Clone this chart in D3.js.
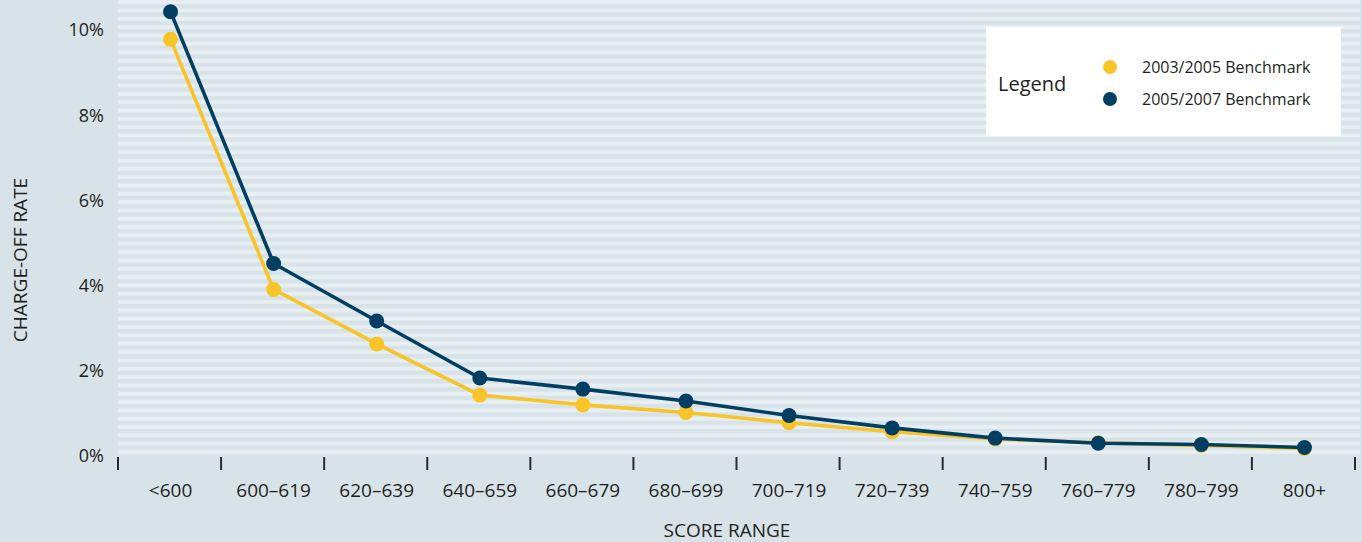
<!DOCTYPE html>
<html><head><meta charset="utf-8">
<script src="https://cdn.jsdelivr.net/npm/d3@7"></script>
<style>
html,body{margin:0;padding:0;background:#d8e3e9;}
svg{display:block;}
text{font-family:"Open Sans","Noto Sans",sans-serif;fill:#231f20;}
</style></head>
<body><svg id="c" width="1362" height="542"></svg>
<script>
const categories = ["<600","600–619","620–639","640–659","660–679","680–699","700–719","720–739","740–759","760–779","780–799","800+"];
const series2003 = [9.78,3.91,2.63,1.43,1.20,1.02,0.78,0.57,0.40,0.31,0.25,0.18];
const series2007 = [10.43,4.52,3.17,1.83,1.57,1.29,0.95,0.66,0.42,0.30,0.27,0.20];
const yTicks = [0,2,4,6,8,10];
const seriesNames = ["2003/2005 Benchmark","2005/2007 Benchmark"];
const colors = ["#f8c427","#003f62"];

const svg = d3.select("#c");
const W = 1362, H = 542;
const plot = {left:118, right:1360, top:0, bottom:454};

svg.append("rect").attr("width",W).attr("height",H).attr("fill","#d8e3e9");

// stripes
const defs = svg.append("defs");
const pat = defs.append("pattern").attr("id","stripes").attr("patternUnits","userSpaceOnUse")
  .attr("x",0).attr("y",454 - 8.33*60).attr("width",20).attr("height",8.33);
pat.append("rect").attr("width",20).attr("height",8.33).attr("fill","#d8e3e9");
pat.append("rect").attr("y",4.4).attr("width",20).attr("height",3.9).attr("fill","#e8eff3");
svg.append("rect").attr("x",plot.left).attr("y",plot.top)
  .attr("width",plot.right-plot.left).attr("height",plot.bottom-plot.top)
  .attr("fill","url(#stripes)");

const x = d3.scaleBand().domain(categories).range([118,1355]);
const y = d3.scaleLinear().domain([0,10]).range([456,30]);

// x ticks at band edges
const edges = categories.map(c=>x(c)).concat([x.range()[1]]);
svg.append("g").selectAll("line").data(edges).join("line")
  .attr("x1",d=>d).attr("x2",d=>d).attr("y1",457).attr("y2",470)
  .attr("stroke","#2b2b2b").attr("stroke-width",2);
svg.append("g").selectAll("text").data(categories).join("text")
  .attr("x",d=>x(d)+x.bandwidth()/2+1).attr("y",497)
  .attr("text-anchor","middle").attr("font-size",19).text(d=>d);

// y ticks
svg.append("g").selectAll("text").data(yTicks).join("text")
  .attr("x",104).attr("y",d=>y(d)).attr("dy","0.35em")
  .attr("text-anchor","end").attr("font-size",18).text(d=>d+"%");

// titles
svg.append("text").attr("transform","translate(27,260) rotate(-90)")
  .attr("text-anchor","middle").attr("font-size",19).text("CHARGE-OFF RATE");
svg.append("text").attr("x",727).attr("y",537).attr("text-anchor","middle")
  .attr("font-size",19).text("SCORE RANGE");

// lines
const data = [series2003, series2007];
const cx = (i)=>x(categories[i])+x.bandwidth()/2+1;
const line = d3.line().x((d,i)=>cx(i)).y(d=>y(d));
data.forEach((s,k)=>{
  const g = svg.append("g");
  g.append("path").datum(s).attr("d",line).attr("fill","none")
    .attr("stroke",colors[k]).attr("stroke-width",3.6).attr("stroke-linejoin","round");
  g.selectAll("circle").data(s).join("circle")
    .attr("cx",(d,i)=>cx(i)).attr("cy",d=>y(d))
    .attr("r",7.5).attr("fill",colors[k]);
});

// legend
const lg = svg.append("g");
lg.append("rect").attr("x",986).attr("y",27).attr("width",355).attr("height",109).attr("fill","#ffffff");
lg.append("text").attr("x",998).attr("y",84).attr("dy","0.35em").attr("font-size",20).text("Legend");
seriesNames.forEach((n,k)=>{
  const cy = 67 + k*32;
  lg.append("circle").attr("cx",1110).attr("cy",cy).attr("r",7).attr("fill",colors[k]);
  lg.append("text").attr("x",1142).attr("y",cy).attr("dy","0.35em").attr("font-size",16).text(n);
});
</script></body></html>
